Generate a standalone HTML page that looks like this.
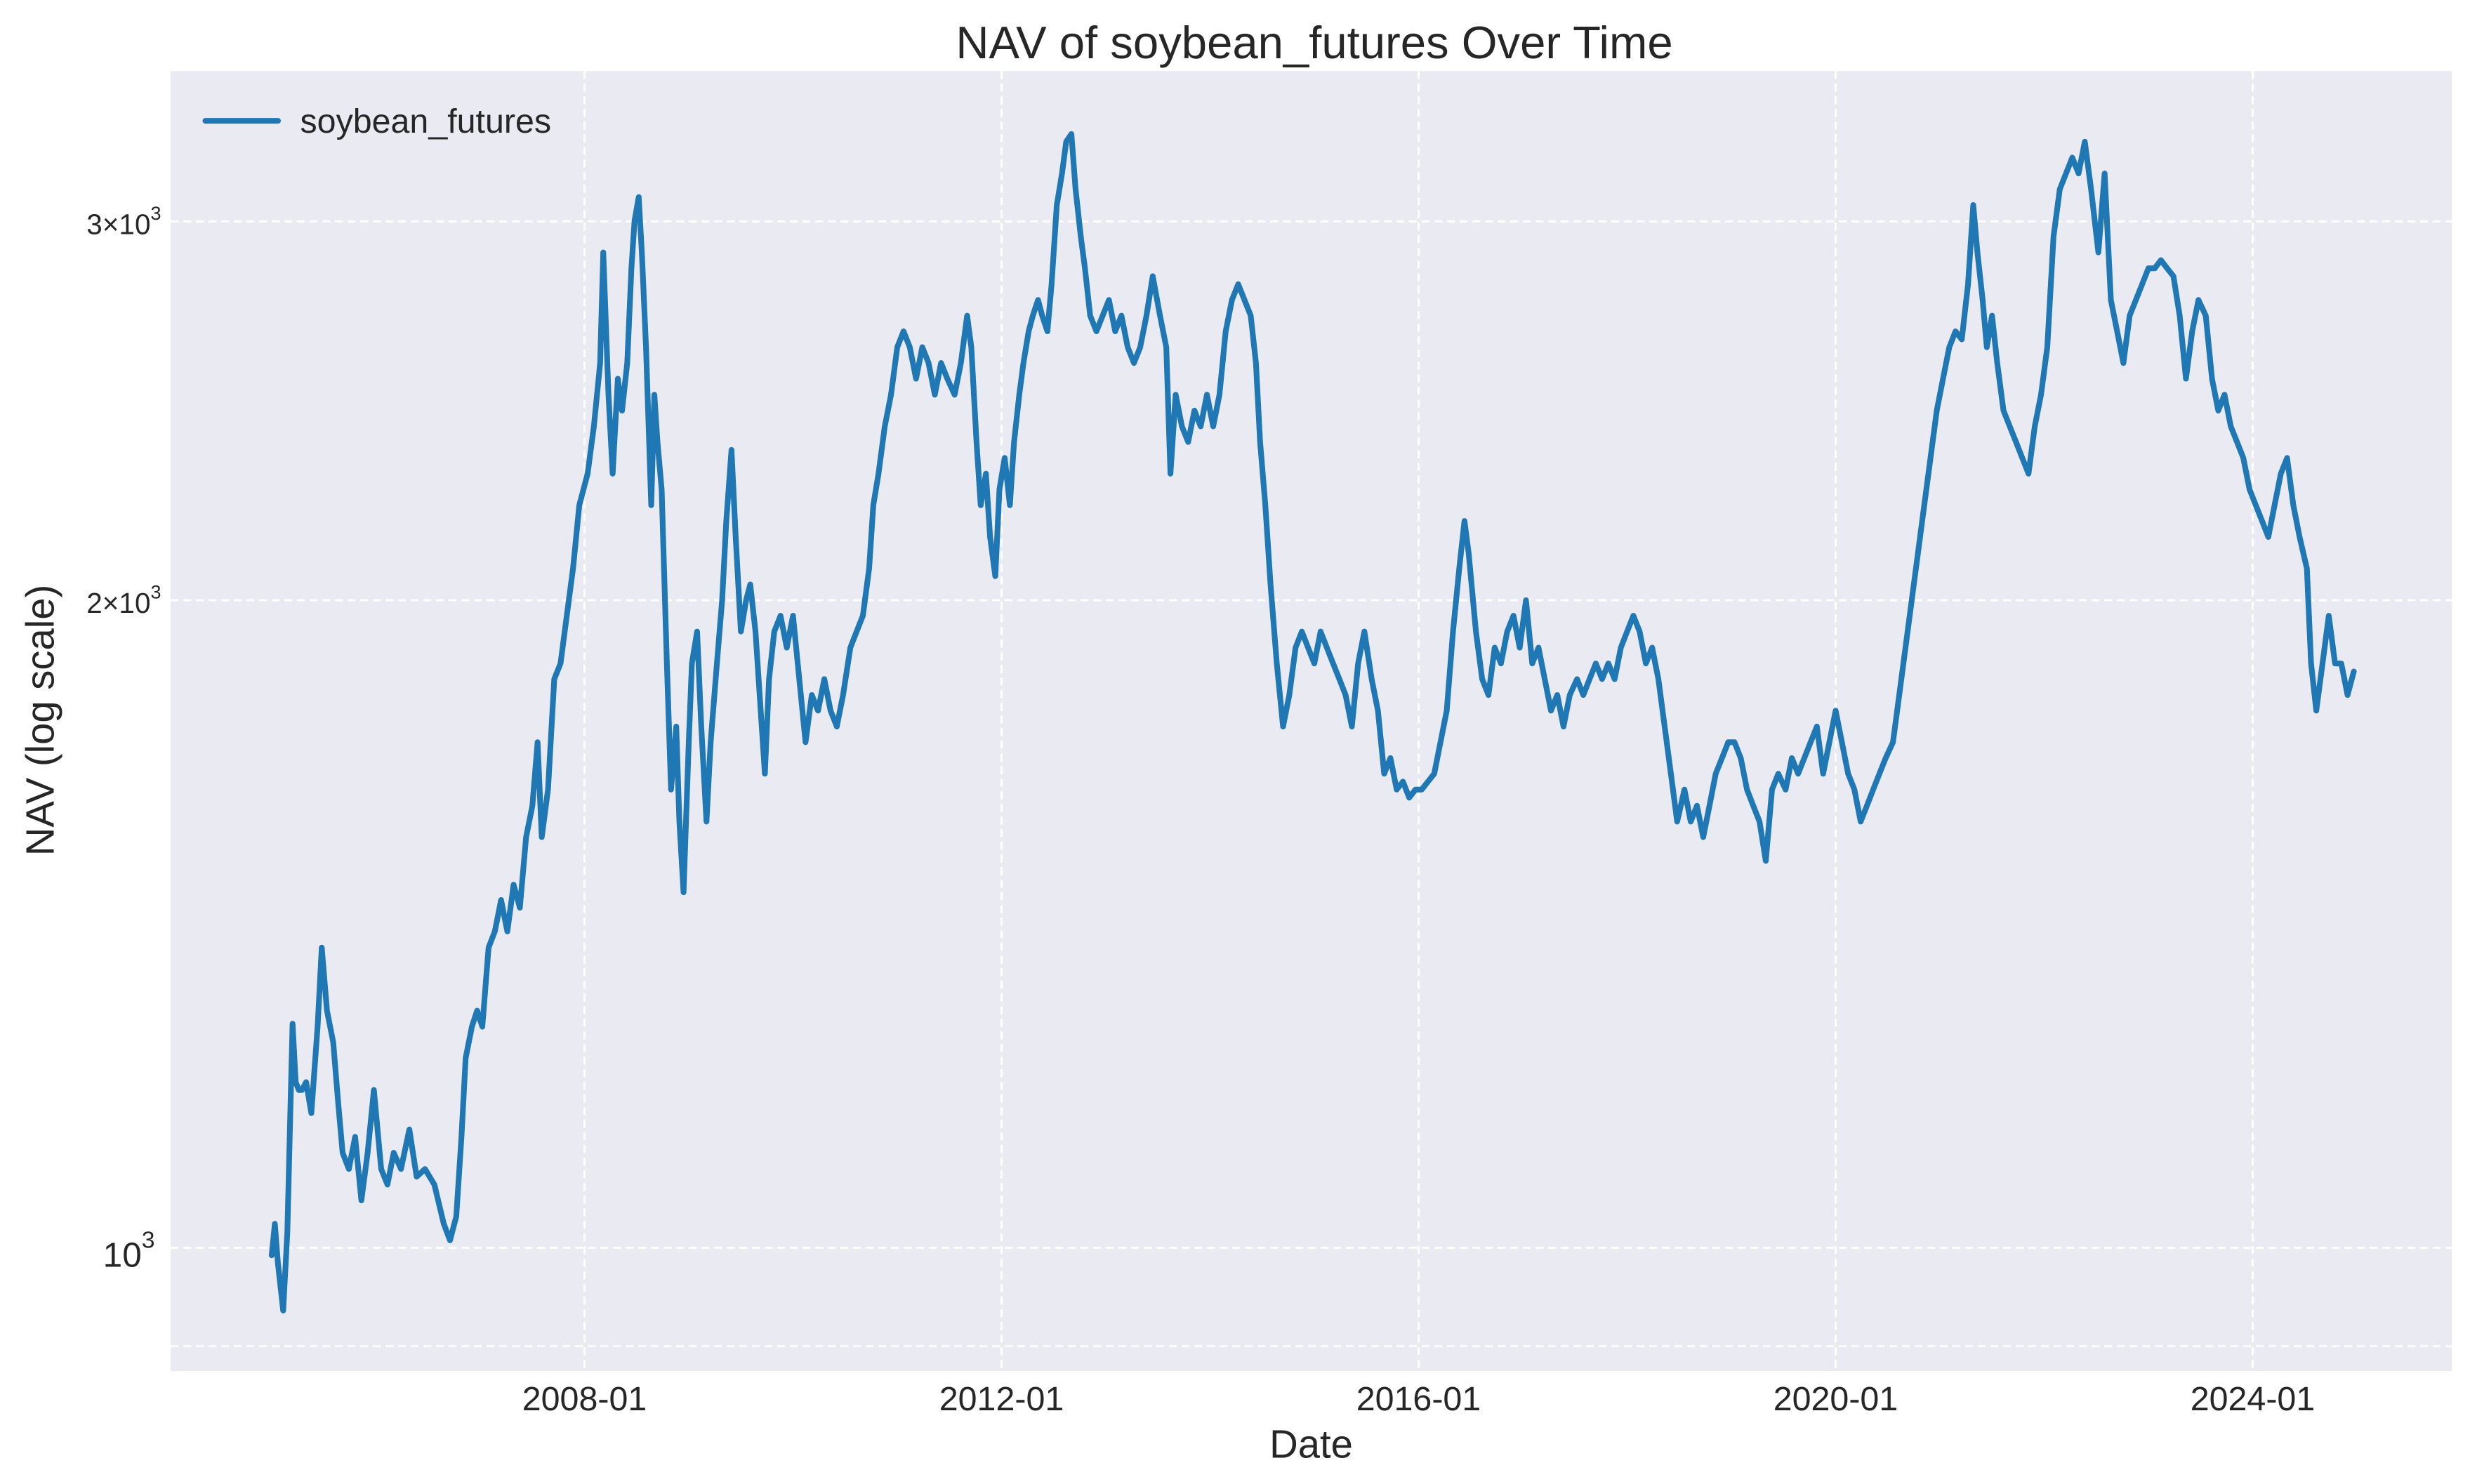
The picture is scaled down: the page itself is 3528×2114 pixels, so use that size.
<!DOCTYPE html>
<html><head><meta charset="utf-8"><style>html,body{margin:0;padding:0;background:#fff}svg{display:block}</style></head>
<body>
<svg id="chart" width="3528" height="2114" viewBox="0 0 1568 939.56" xmlns="http://www.w3.org/2000/svg" font-family="'Liberation Sans', Arial, sans-serif">
<rect x="0" y="0" width="1568" height="940" fill="#ffffff"/>
<rect x="108" y="45" width="1444" height="823" fill="#EAEAF2"/>
<g id="grid"></g>
<g id="series"></g>
<g id="ticks"></g>
<text x="832" y="37" text-anchor="middle" font-size="29" fill="#262626">NAV of soybean_futures Over Time</text>
<text x="830" y="923" text-anchor="middle" font-size="25" fill="#262626">Date</text>
<text x="0" y="0" transform="translate(34,456) rotate(-90)" text-anchor="middle" font-size="25" fill="#262626">NAV (log scale)</text>
<g>
<line x1="130" y1="76.5" x2="176" y2="76.5" stroke="#1f77b4" stroke-width="3.6" stroke-linecap="round"/>
<text x="190" y="84" font-size="21.5" fill="#262626">soybean_futures</text>
</g>
</svg>
<script>
const dates=[2005.00,2005.03,2005.06,2005.11,2005.15,2005.18,2005.20,2005.23,2005.26,2005.29,2005.33,2005.38,2005.44,2005.48,2005.53,2005.59,2005.64,2005.68,2005.74,2005.80,2005.86,2005.92,2005.98,2006.05,2006.11,2006.17,2006.24,2006.32,2006.39,2006.47,2006.56,2006.65,2006.71,2006.77,2006.82,2006.86,2006.92,2006.97,2007.02,2007.08,2007.14,2007.20,2007.26,2007.32,2007.38,2007.44,2007.50,2007.55,2007.59,2007.65,2007.71,2007.77,2007.83,2007.89,2007.95,2008.03,2008.09,2008.15,2008.18,2008.23,2008.27,2008.32,2008.36,2008.41,2008.45,2008.48,2008.52,2008.55,2008.59,2008.64,2008.67,2008.70,2008.74,2008.79,2008.83,2008.88,2008.91,2008.95,2009.00,2009.03,2009.08,2009.12,2009.17,2009.21,2009.27,2009.32,2009.36,2009.41,2009.45,2009.50,2009.55,2009.59,2009.64,2009.68,2009.73,2009.77,2009.82,2009.88,2009.94,2010.00,2010.06,2010.12,2010.18,2010.24,2010.30,2010.36,2010.42,2010.48,2010.55,2010.61,2010.67,2010.73,2010.77,2010.82,2010.88,2010.94,2011.00,2011.06,2011.12,2011.18,2011.24,2011.30,2011.36,2011.42,2011.48,2011.55,2011.61,2011.67,2011.71,2011.76,2011.80,2011.85,2011.89,2011.94,2011.98,2012.03,2012.08,2012.12,2012.17,2012.21,2012.26,2012.30,2012.35,2012.39,2012.44,2012.48,2012.53,2012.58,2012.62,2012.67,2012.71,2012.76,2012.80,2012.85,2012.91,2012.97,2013.03,2013.09,2013.15,2013.21,2013.27,2013.33,2013.39,2013.45,2013.52,2013.58,2013.62,2013.67,2013.73,2013.79,2013.85,2013.91,2013.97,2014.03,2014.09,2014.15,2014.21,2014.27,2014.33,2014.39,2014.44,2014.48,2014.53,2014.58,2014.64,2014.70,2014.76,2014.82,2014.88,2014.94,2015.00,2015.06,2015.12,2015.18,2015.24,2015.30,2015.36,2015.42,2015.48,2015.55,2015.61,2015.67,2015.73,2015.79,2015.85,2015.91,2015.97,2016.03,2016.09,2016.15,2016.21,2016.27,2016.33,2016.39,2016.44,2016.48,2016.55,2016.61,2016.67,2016.73,2016.79,2016.85,2016.91,2016.97,2017.03,2017.09,2017.15,2017.21,2017.27,2017.33,2017.39,2017.45,2017.52,2017.58,2017.64,2017.70,2017.76,2017.82,2017.88,2017.94,2018.00,2018.06,2018.12,2018.18,2018.24,2018.30,2018.36,2018.42,2018.48,2018.55,2018.61,2018.67,2018.73,2018.79,2018.85,2018.91,2018.97,2019.03,2019.09,2019.15,2019.21,2019.27,2019.33,2019.39,2019.45,2019.52,2019.58,2019.64,2019.70,2019.76,2019.82,2019.88,2019.94,2020.00,2020.06,2020.12,2020.18,2020.24,2020.30,2020.36,2020.42,2020.48,2020.55,2020.61,2020.67,2020.73,2020.79,2020.85,2020.91,2020.97,2021.03,2021.09,2021.15,2021.21,2021.27,2021.32,2021.36,2021.41,2021.45,2021.50,2021.55,2021.61,2021.67,2021.73,2021.79,2021.85,2021.91,2021.97,2022.03,2022.09,2022.15,2022.21,2022.27,2022.33,2022.39,2022.45,2022.52,2022.58,2022.64,2022.70,2022.76,2022.82,2022.88,2022.94,2023.00,2023.06,2023.12,2023.18,2023.24,2023.30,2023.36,2023.42,2023.48,2023.55,2023.61,2023.67,2023.73,2023.79,2023.85,2023.91,2023.97,2024.03,2024.09,2024.15,2024.21,2024.27,2024.33,2024.39,2024.45,2024.52,2024.56,2024.61,2024.67,2024.73,2024.79,2024.85,2024.91,2024.97];
const nav=[992,1026,983,935,1017,1164,1271,1194,1184,1184,1194,1155,1267,1379,1289,1246,1164,1107,1088,1126,1052,1107,1184,1088,1070,1107,1088,1135,1079,1088,1070,1026,1008,1034,1126,1225,1267,1289,1267,1379,1403,1451,1403,1475,1439,1552,1605,1718,1552,1633,1838,1869,1967,2069,2214,2290,2409,2578,2902,2492,2290,2535,2450,2578,2853,3002,3079,2902,2622,2214,2492,2369,2252,1869,1633,1747,1578,1463,1718,1869,1934,1747,1578,1718,1869,2000,2177,2349,2140,1934,2000,2034,1934,1807,1661,1838,1934,1967,1901,1967,1838,1718,1807,1777,1838,1777,1747,1807,1901,1934,1967,2069,2214,2290,2409,2492,2622,2667,2622,2535,2622,2578,2492,2578,2535,2492,2578,2712,2622,2369,2214,2290,2140,2052,2252,2329,2214,2369,2492,2578,2667,2712,2758,2712,2667,2805,3053,3158,3267,3294,3105,2952,2853,2712,2667,2712,2758,2667,2712,2622,2578,2622,2712,2829,2712,2622,2290,2492,2409,2369,2450,2409,2492,2409,2492,2667,2758,2805,2758,2712,2578,2369,2214,2034,1869,1747,1807,1901,1934,1901,1869,1934,1901,1869,1838,1807,1747,1869,1934,1838,1777,1661,1689,1633,1647,1619,1633,1633,1647,1661,1718,1777,1934,2069,2177,2104,1934,1838,1807,1901,1869,1934,1967,1901,2000,1869,1901,1838,1777,1807,1747,1807,1838,1807,1838,1869,1838,1869,1838,1901,1934,1967,1934,1869,1901,1838,1747,1661,1578,1633,1578,1605,1552,1605,1661,1689,1718,1718,1689,1633,1605,1578,1513,1633,1661,1633,1689,1661,1689,1718,1747,1661,1718,1777,1718,1661,1633,1578,1605,1633,1661,1689,1718,1807,1901,2000,2104,2214,2329,2450,2535,2622,2667,2644,2805,3053,2902,2758,2622,2712,2578,2450,2409,2369,2329,2290,2409,2492,2622,2952,3105,3158,3212,3158,3267,3105,2902,3158,2758,2667,2578,2712,2758,2805,2853,2853,2878,2853,2829,2712,2535,2667,2758,2712,2535,2450,2492,2409,2369,2329,2252,2214,2177,2140,2214,2290,2329,2214,2140,2069,1869,1777,1869,1967,1869,1869,1807,1853];
const xTickYears=[2008,2012,2016,2020,2024];
const xTickLabels=["2008-01","2012-01","2016-01","2020-01","2024-01"];
const yMajorTicks=[1000];
const yMinorLabeled=[2000,3000];
const yMinorLabelText=["2","3"];
const yMinorUnlabeled=[900];

const NS='http://www.w3.org/2000/svg';
const X0=108,X1=1552,Y0=45,Y1=868;
function xs(yr){return 370+(yr-2008)*66;}
function ys(v){return 790-Math.log10(v/1000)*1362;}
function mk(tag,attrs,parent){const e=document.createElementNS(NS,tag);for(const k in attrs)e.setAttribute(k,attrs[k]);parent.appendChild(e);return e;}
const grid=document.getElementById('grid'),ticks=document.getElementById('ticks'),series=document.getElementById('series');
xTickYears.forEach((yr,i)=>{
  const x=xs(yr);
  const g=mk('line',{x1:x,x2:x,y1:Y0,y2:Y1,stroke:'#fff','stroke-width':1.3,'stroke-dasharray':'5,3'},grid);
  
  
  const t=mk('text',{x:x,y:893,'text-anchor':'middle','font-size':21.5,fill:'#262626'},ticks);
  t.textContent=xTickLabels[i];
  
  
});
[...yMajorTicks,...yMinorLabeled,...yMinorUnlabeled].forEach(v=>{
  const y=ys(v);
  const g=mk('line',{x1:X0,x2:X1,y1:y,y2:y,stroke:'#fff','stroke-width':1.3,'stroke-dasharray':'5,3'},grid);
  
  
});
yMajorTicks.forEach(v=>{
  const y=ys(v);
  const t=mk('text',{x:98,y:y+12,'text-anchor':'end','font-size':22,fill:'#262626'},ticks);
  t.innerHTML='10<tspan dy="-12" font-size="15">3</tspan>';
  
  
});
yMinorLabeled.forEach((v,i)=>{
  const y=ys(v);
  const t=mk('text',{x:102,y:y+8,'text-anchor':'end','font-size':18,fill:'#262626'},ticks);
  t.innerHTML=yMinorLabelText[i]+'\u00d710<tspan dy="-9" font-size="12">3</tspan>';
  
  
});
let d='';
dates.forEach((yr,i)=>{d+=(i?'L':'M')+xs(yr).toFixed(2)+','+ys(nav[i]).toFixed(2);});
const p=mk('path',{d:d,fill:'none',stroke:'#1f77b4','stroke-width':3.6,'stroke-linejoin':'round','stroke-linecap':'round'},series);


</script>
</body></html>
